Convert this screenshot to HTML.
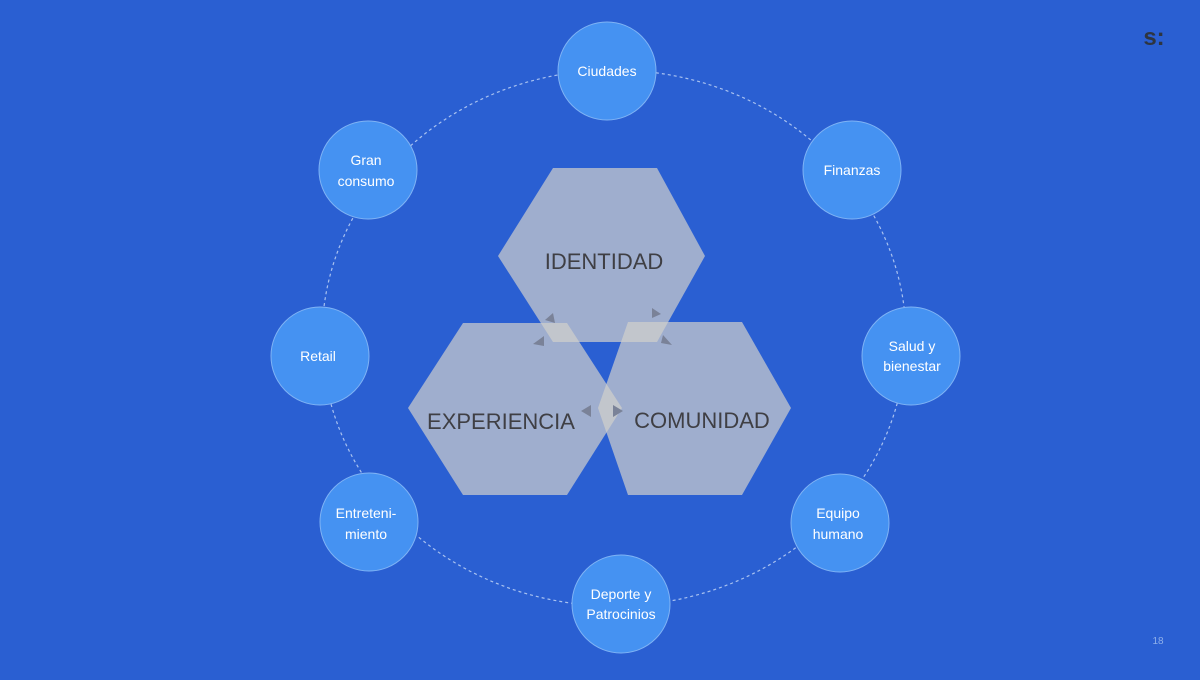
<!DOCTYPE html>
<html><head><style>
html,body{margin:0;padding:0;}
body{width:1200px;height:675px;background:#2a5fd2;overflow:hidden;font-family:"Liberation Sans",sans-serif;}
</style></head><body>
<svg width="1200" height="675" viewBox="0 0 1200 675" xmlns="http://www.w3.org/2000/svg">
<rect width="1200" height="675" fill="#2a5fd2"/>
<ellipse cx="614" cy="338" rx="292" ry="268" fill="none" stroke="#a9c2f0" stroke-width="1.2" stroke-dasharray="3,3"/>
<g fill="#d2d0cc" fill-opacity="0.7">
<polygon points="553,168 657,168 705,256 657,342 553,342 498,256"/>
<polygon points="463,323 567,323 622,408 567,495 463,495 408,408"/>
<polygon points="628,322 742,322 791,408 742,495 628,495 598,408"/>
</g>
<g fill="#7a8298">
<polygon points="553,313 545,320 555,323"/><polygon points="533,344 544,336 544,346"/>
<polygon points="652,308 661,314 652,318"/><polygon points="672,345 663,335 661,343"/>
<polygon points="581,411 591,405 591,417"/><polygon points="623,411 613,405 613,417"/>
</g>
<g fill="#3f3f44" font-size="22" text-anchor="middle">
<text x="604" y="269">IDENTIDAD</text>
<text x="501" y="429">EXPERIENCIA</text>
<text x="702" y="428">COMUNIDAD</text>
</g>
<g fill="#4592f2" stroke="#7fb3f5" stroke-width="1">
<circle cx="607" cy="71" r="49"/><circle cx="852" cy="170" r="49"/>
<circle cx="911" cy="356" r="49"/><circle cx="840" cy="523" r="49"/>
<circle cx="621" cy="604" r="49"/><circle cx="369" cy="522" r="49"/>
<circle cx="320" cy="356" r="49"/><circle cx="368" cy="170" r="49"/>
</g>
<g fill="#fff" font-size="14" text-anchor="middle">
<text x="607" y="76">Ciudades</text>
<text x="852" y="175">Finanzas</text>
<text x="912" y="351">Salud y</text><text x="912" y="371">bienestar</text>
<text x="838" y="518">Equipo</text><text x="838" y="539">humano</text>
<text x="621" y="599">Deporte y</text><text x="621" y="619">Patrocinios</text>
<text x="366" y="518">Entreteni-</text><text x="366" y="539">miento</text>
<text x="318" y="361">Retail</text>
<text x="366" y="165">Gran</text><text x="366" y="186">consumo</text>
</g>
<text x="1154" y="45" fill="#2e3540" font-size="24" font-weight="bold" text-anchor="middle">s:</text>
<text x="1158" y="644" fill="#8fb0ea" font-size="10" text-anchor="middle">18</text>
</svg>
</body></html>
